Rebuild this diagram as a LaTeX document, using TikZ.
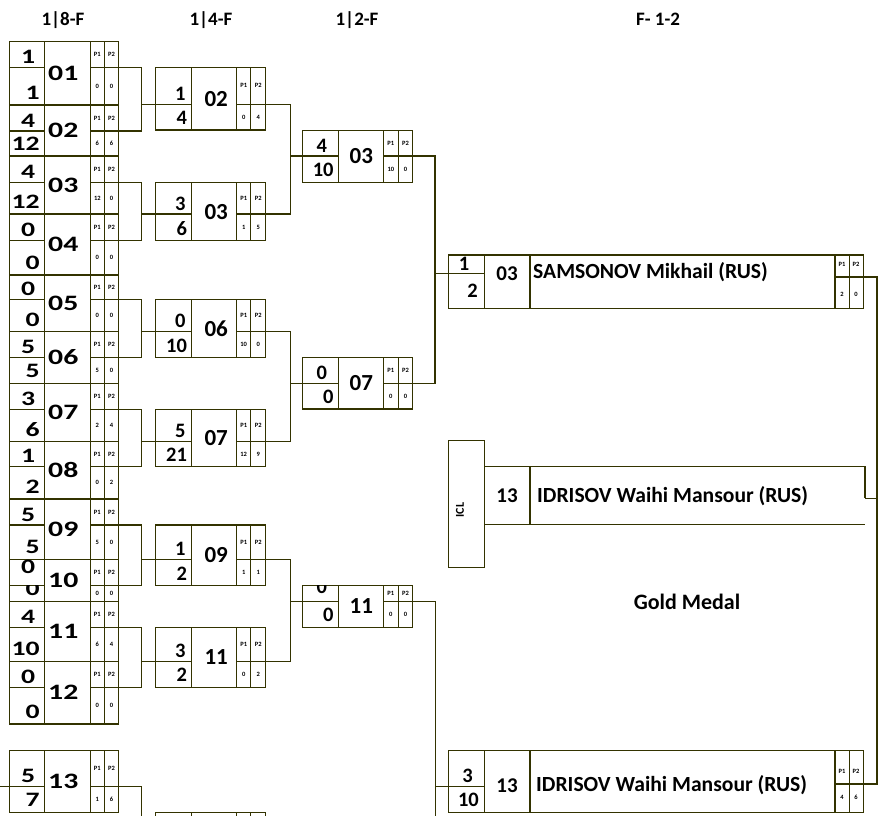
\documentclass[tikz,border=0pt]{standalone}
\usepackage{fontspec}
\setmainfont{Carlito}
\usetikzlibrary{calc}
\definecolor{lc}{HTML}{333300}
\tikzset{
 ln/.style={draw=lc, line width=1.4pt},
 boxnode/.style={ln, anchor=north west, inner sep=0pt, outer sep=0pt},
 seedn/.style={font=\bfseries\fontsize{20.5}{20.5}\selectfont, inner sep=0pt},
 numn/.style={font=\bfseries\fontsize{23}{23}\selectfont, inner sep=0pt},
 wnumn/.style={font=\bfseries\fontsize{22}{22}\selectfont, inner sep=0pt},
 fnumn/.style={font=\bfseries\fontsize{21}{21}\selectfont, inner sep=0pt, anchor=base},
 ptxt/.style={font=\bfseries\fontsize{6.5}{6.5}\selectfont, inner sep=0pt},
 head/.style={font=\bfseries\fontsize{19}{19}\selectfont, inner sep=0pt, anchor=base},
 namen/.style={font=\bfseries\fontsize{21.6}{21.6}\selectfont, inner sep=0pt, anchor=base west},
 curseed/.style={seedn}, curnum/.style={numn}
}
\newcommand\setcols[7]{\def\xa{#1}\def\xb{#2}\def\xc{#3}\def\xd{#4}\def\xe{#5}\def\nsh{#6}\def\ug{#7}}
\newcommand\widew[1]{\scalebox{1.35}[1]{#1}}
\newcommand\plainw[1]{#1}
\let\curw\plainw
\def\uoff{4}\def\loff{5.5}
\newcommand\bbox[9]{%
 \node[boxnode, minimum width={(\xe-\xa)*1pt}, minimum height={(#4-#2)*1pt}] (#1) at (\xa,#2) {};
 \draw[ln] (\xb,#2) -- (\xb,#4) (\xc,#2) -- (\xc,#4) (\xd,#2) -- (\xd,#4)
   (\xa,#3) -- (\xb,#3) (\xc,#3) -- (\xe,#3);
 \coordinate (#1-in) at (\xa,#3);
 \coordinate (#1-out) at (\xe,#3);
 \begin{scope}\clip (\xa,#2) rectangle (\xb,#3);
  \node[curseed, anchor=base east] (#1-s1) at (\xb-\ug,#3-\uoff) {\curw{#5}};
 \end{scope}
 \begin{scope}\clip (\xa,#3) rectangle (\xb,#4);
  \node[curseed, anchor=base east] (#1-s2) at (\xb-4.5,#4-\loff) {\curw{#6}};
 \end{scope}
 \node[curnum] (#1-n) at ({(\xb+\xc)/2+(\nsh)},{(#2+#4)/2}) {\curw{#7}};
 \node[ptxt] (#1-p1h) at ({(\xc+\xd)/2},{(#2+#3)/2}) {P1};
 \node[ptxt] (#1-p2h) at ({(\xd+\xe)/2},{(#2+#3)/2}) {P2};
 \node[ptxt] (#1-p1) at ({(\xc+\xd)/2},{(#3+#4)/2}) {#8};
 \node[ptxt] (#1-p2) at ({(\xd+\xe)/2},{(#3+#4)/2}) {#9};
}
\begin{document}
\begin{tikzpicture}[x=1pt,y=-1pt]
\fill[white] (0,0) rectangle (883,816);
\useasboundingbox (0,0) rectangle (883,816);

% headers
\node[head] (h1) at (63,26) {1|8-F};
\node[head] (h2) at (211,26) {1|4-F};
\node[head] (h3) at (357,26) {1|2-F};
\node[head] (h4) at (658,26) {F- 1-2};

% round 1
\setcols{9.3}{44.3}{90.3}{104.3}{118.7}{-4}{9}
\tikzset{curnum/.style={wnumn}}
\let\curw\widew
\bbox{a01}{41.7}{67.3}{105}{1}{1}{01}{0}{0}
\bbox{a02}{105}{131}{156}{4}{12}{02}{6}{6}
\bbox{a03}{156}{182.7}{214}{4}{12}{03}{12}{0}
\bbox{a04}{214}{240.7}{275}{0}{0}{04}{0}{0}
\bbox{a05}{275}{299.3}{331.7}{0}{0}{05}{0}{0}
\bbox{a06}{331.7}{357.7}{383.3}{5}{5}{06}{5}{0}
\bbox{a07}{383.3}{409.3}{441.7}{3}{6}{07}{2}{4}
\bbox{a08}{441.7}{466.7}{499}{1}{2}{08}{0}{2}
\bbox{a09}{499}{525}{559.3}{5}{5}{09}{5}{0}
\def\uoff{12}\def\loff{6.5}
\bbox{a10}{559.3}{585.3}{601.5}{0}{0}{10}{0}{0}
\def\uoff{4}\def\loff{5.5}
\bbox{a11}{601.5}{627.3}{661.3}{4}{10}{11}{6}{4}
\bbox{a12}{661.3}{687.3}{724}{0}{0}{12}{0}{0}
\bbox{a13}{750.7}{786.5}{812.3}{5}{7}{13}{1}{6}

% round 2
\setcols{155.7}{191.7}{236.7}{250.7}{265.7}{2}{6}
\tikzset{curnum/.style={numn}}
\let\curw\plainw
\bbox{b02}{67.3}{104.3}{130}{1}{4}{02}{0}{4}
\bbox{b03}{182.7}{214}{240.7}{3}{6}{03}{1}{5}
\bbox{b06}{299.3}{331.7}{357.7}{0}{10}{06}{10}{0}
\bbox{b07}{409.3}{441.7}{466.7}{5}{21}{07}{12}{9}
\bbox{b09}{525}{559.3}{585.7}{1}{2}{09}{1}{1}
\bbox{b11}{627.3}{661.3}{687.3}{3}{2}{11}{0}{2}
% partial box at the bottom
\draw[ln] (155.7,830) -- (155.7,812.3) -- (265.7,812.3) -- (265.7,830)
  (191.7,812.3) -- (191.7,830) (236.7,812.3) -- (236.7,830) (250.7,812.3) -- (250.7,830);

% round 3
\setcols{302.3}{338.3}{383.3}{398.3}{412.7}{0.5}{11}
\bbox{c03}{130.7}{156}{182.3}{4}{10}{03}{10}{0}
\bbox{c07}{357.7}{383.3}{409}{0}{0}{07}{0}{0}
\def\uoff{8}
\bbox{c11}{585.7}{601.7}{627.3}{0}{0}{11}{0}{0}
\def\uoff{4}

% final box 03
\node[boxnode, minimum width=415pt, minimum height=53.3pt] (f03) at (448.3,255) {};
\draw[ln] (484.3,255) -- (484.3,308.3) (530,255) -- (530,308.3) (835,255) -- (835,308.3)
  (849.3,255) -- (849.3,308.3) (448.3,273.3) -- (484.3,273.3) (835,277) -- (863.3,277);
\coordinate (f03-in) at (448.3,273.3);
\coordinate (f03-out) at (863.3,277);
\node[seedn, anchor=base east] (f03-s1) at (469.5,270) {1};
\node[seedn, anchor=base east] (f03-s2) at (478,297) {2};
\node[fnumn] (f03-n) at (507,280) {03};
\node[namen] (f03-name) at (533,278) {SAMSONOV Mikhail (RUS)};
\node[ptxt] (f03-p1h) at (842,264) {P1};
\node[ptxt] (f03-p2h) at (856,264) {P2};
\node[ptxt] (f03-p1) at (842,294) {2};
\node[ptxt] (f03-p2) at (856,294) {0};

% ICL
\node[boxnode, minimum width=36pt, minimum height=126.6pt] (iclbox) at (448.3,440.7) {};
\node[font=\bfseries\fontsize{12}{12}\selectfont, rotate=90, inner sep=0pt] (icltxt) at (460,510) {ICL};
\draw[ln] (484.3,466.7) -- (865,466.7) -- (865,498.3) coordinate (icl-out);
\draw[ln] (484.3,524.3) -- (865,524.3);
\draw[ln] (530,466.7) -- (530,524.3);
\node[fnumn] (icl-n) at (507,502) {13};
\node[namen] (icl-name) at (537,502) {IDRISOV Waihi Mansour (RUS)};

\node[font=\bfseries\fontsize{22}{22}\selectfont, inner sep=0pt] (gold) at (687,602) {Gold Medal};

% final box 13
\node[boxnode, minimum width=415pt, minimum height=61.6pt] (f13) at (448.3,750.7) {};
\draw[ln] (484.3,750.7) -- (484.3,812.3) (530,750.7) -- (530,812.3) (835,750.7) -- (835,812.3)
  (849.3,750.7) -- (849.3,812.3) (448.3,786.7) -- (484.3,786.7) (835,784) -- (863.3,784);
\coordinate (f13-in) at (448.3,786.7);
\coordinate (f13-out) at (863.3,784);
\node[seedn, anchor=base east] (f13-s1) at (473,782) {3};
\node[seedn, anchor=base east] (f13-s2) at (479,806) {10};
\node[fnumn] (f13-n) at (507,792) {13};
\node[namen] (f13-name) at (536,791.5) {IDRISOV Waihi Mansour (RUS)};
\node[ptxt] (f13-p1h) at (842,771) {P1};
\node[ptxt] (f13-p2h) at (856,771) {P2};
\node[ptxt] (f13-p1) at (842,797) {4};
\node[ptxt] (f13-p2) at (856,797) {6};

% connectors round 1 -> 2
\draw[ln] (a01-out) -- ++(23,0) |- (a02-out);
\draw[ln] (b02-in) -- ++(-14,0);
\draw[ln] (a03-out) -- ++(23,0) |- (a04-out);
\draw[ln] (b03-in) -- ++(-14,0);
\draw[ln] (a05-out) -- ++(23,0) |- (a06-out);
\draw[ln] (b06-in) -- ++(-14,0);
\draw[ln] (a07-out) -- ++(23,0) |- (a08-out);
\draw[ln] (b07-in) -- ++(-14,0);
\draw[ln] (a09-out) -- ++(23,0) |- (a10-out);
\draw[ln] (b09-in) -- ++(-14,0);
\draw[ln] (a11-out) -- ++(23,0) |- (a12-out);
\draw[ln] (b11-in) -- ++(-14,0);
\draw[ln] (a13-out) -- ++(23,0) -- ++(0,40);
\draw[ln] (a13-in) -- ++(-15,0);

% round 2 -> 3
\draw[ln] (b02-out) -- ++(25,0) |- (b03-out);
\draw[ln] (c03-in) -- ++(-11.6,0);
\draw[ln] (b06-out) -- ++(25,0) |- (b07-out);
\draw[ln] (c07-in) -- ++(-11.6,0);
\draw[ln] (b09-out) -- ++(25,0) |- (b11-out);
\draw[ln] (c11-in) -- ++(-11.6,0);

% round 3 -> final
\draw[ln] (c03-out) -- ++(22.3,0) |- (c07-out);
\draw[ln] (f03-in) -- ++(-13.3,0);
\draw[ln] (c11-out) -- ++(22.8,0) -- ++(0,240);
\draw[ln] (f13-in) -- ++(-13.3,0);

% final -> right
\draw[ln] (f03-out) -- ++(13.7,0) |- (f13-out);
\draw[ln] (icl-out) -- ++(12,0);
\end{tikzpicture}
\end{document}
